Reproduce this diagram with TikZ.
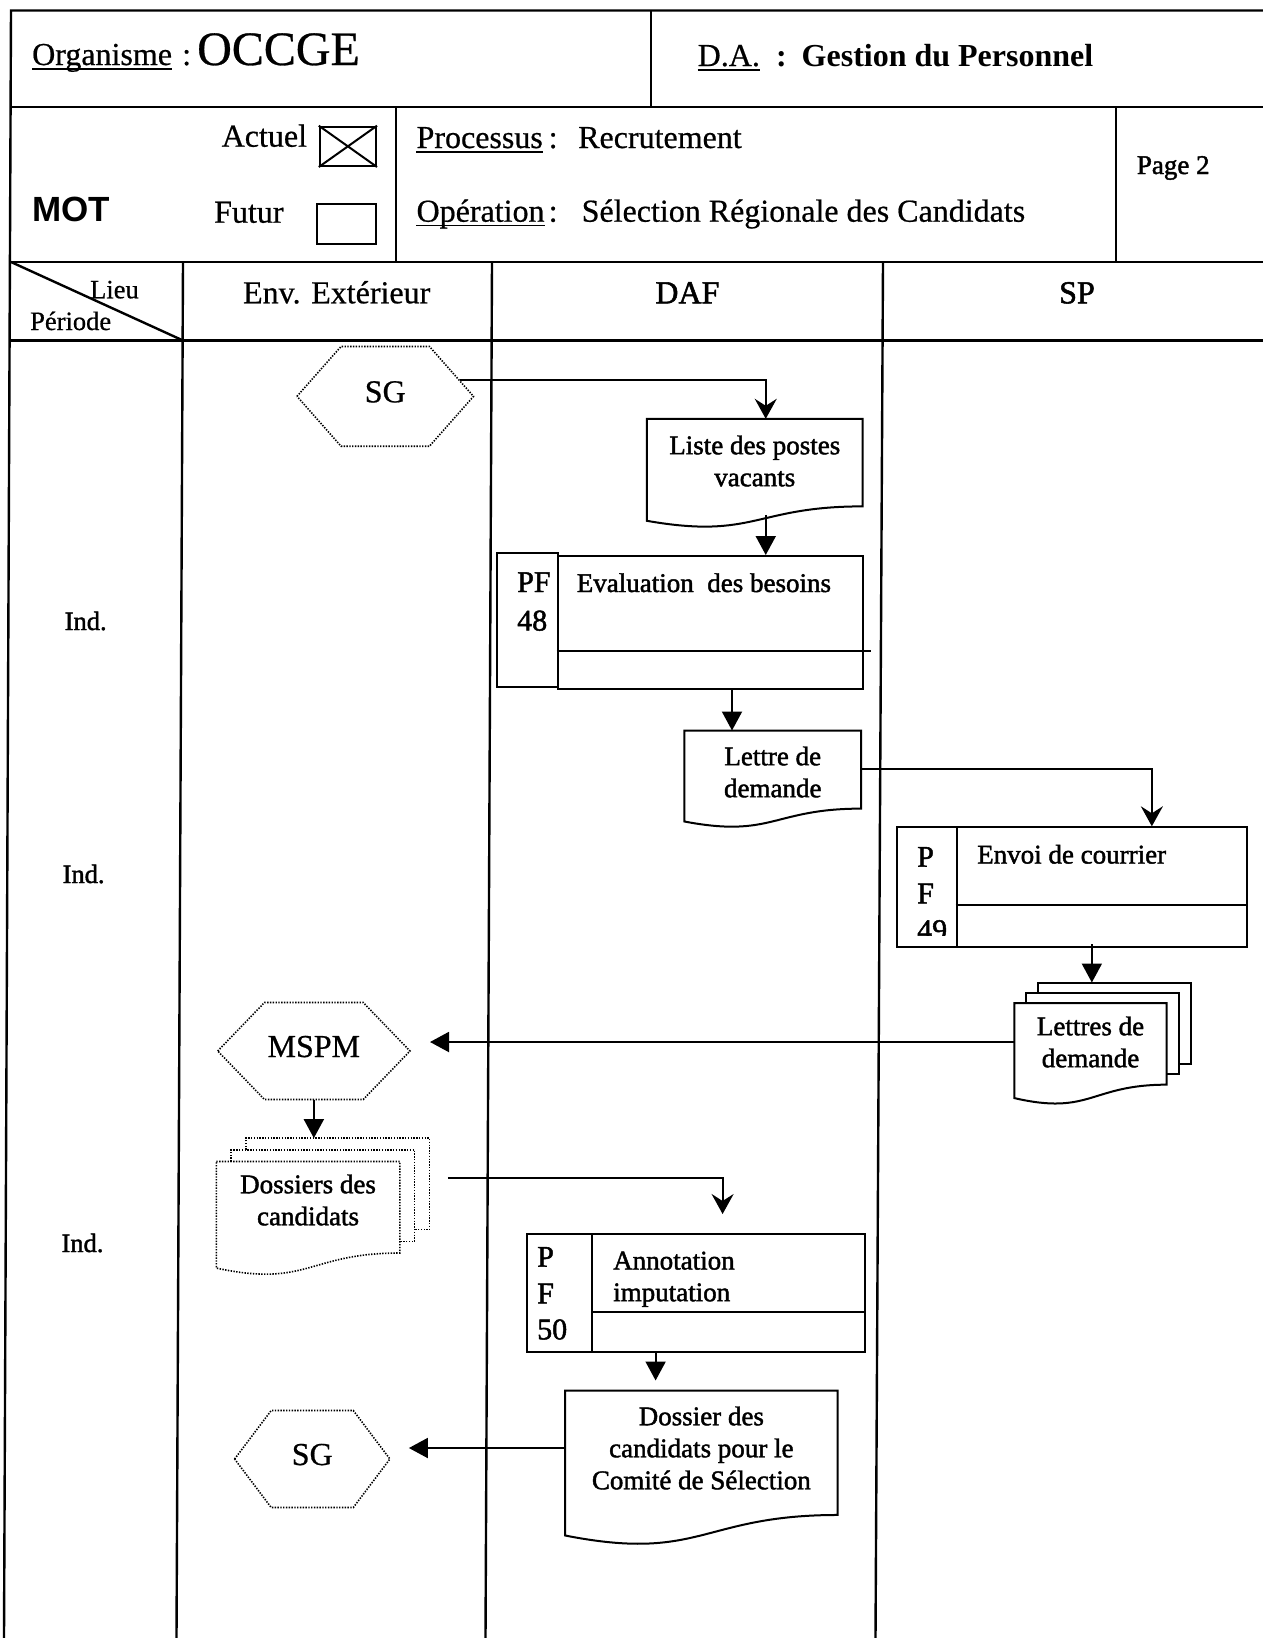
\documentclass[tikz,border=0pt]{standalone}
\usepackage{fontspec}
\setmainfont{Liberation Serif}[UprightFeatures={FakeBold=0.6}]
\newfontfamily\heavyfont{Liberation Serif}[FakeBold=1.6]
\newfontfamily\motfont{Liberation Sans}
\usetikzlibrary{calc,arrows.meta}

\newcommand{\fsBig}{\fontsize{48}{56}\selectfont}
\newcommand{\fsHead}{\fontsize{32}{38}\selectfont}
\newcommand{\fsBox}{\heavyfont\fontsize{27}{32}\selectfont}
\newcommand{\fsPF}{\heavyfont\fontsize{30}{36}\selectfont}
\newcommand{\fsSmall}{\fontsize{26.5}{32}\selectfont}

% document symbol: flat top, wavy bottom (#3 = full height of the sheet)
\newcommand{\docoutline}[3]{%
  \draw[#1] let \p1=(#2.north west), \p2=(#2.north east) in
    (\p1) -- (\p2) -- (\x2,{\y1-0.802*#3})
    .. controls ({0.5*\x1+0.5*\x2},{\y1-0.802*#3}) and ({0.5*\x1+0.5*\x2},{\y1-1.1075*#3}) ..
    (\x1,{\y1-0.934*#3}) -- cycle;}

% pile of documents: two sheets showing behind the front one
\newcommand{\stackoutline}[5]{%
  \draw[#1] let \p1=(#2.north west), \p2=(#2.north east) in
    ({\x1+#4},\y1) -- ({\x1+#4},{\y1+#5}) -- ({\x2+#4},{\y1+#5})
      -- ({\x2+#4},{\y1-0.802*#3+#5}) -- (\x2,{\y1-0.802*#3+#5})
    ({\x1+2*#4},{\y1+#5}) -- ({\x1+2*#4},{\y1+2*#5}) -- ({\x2+2*#4},{\y1+2*#5})
      -- ({\x2+2*#4},{\y1-0.802*#3+2*#5}) -- ({\x2+#4},{\y1-0.802*#3+2*#5});
  \docoutline{#1}{#2}{#3}}

% external actor: elongated hexagon around a node (#3 = depth of the points)
\newcommand{\hexoutline}[3]{%
  \draw[#1] (#2.west) -- ($(#2.north west)+(#3,0)$) -- ($(#2.north east)+(-#3,0)$)
    -- (#2.east) -- ($(#2.south east)+(-#3,0)$) -- ($(#2.south west)+(#3,0)$) -- cycle;}

\begin{document}
\begin{tikzpicture}[x=1pt,y=-1pt,
  tblline/.style={line width=2.4pt},
  shapeline/.style={line width=2pt},
  dotline/.style={line width=1.6pt, dash pattern=on 1.4pt off 1.4pt},
  txt/.style={inner sep=0pt, anchor=base west},
  ctxt/.style={inner sep=0pt, anchor=base},
  pbox/.style={draw, line width=2pt, rectangle, inner sep=0pt},
  hexbox/.style={rectangle, inner sep=0pt, font=\fsHead, text height=22pt, text depth=10pt},
  docbox/.style={rectangle, inner sep=0pt, align=center, font=\fsBox},
  arr/.style={line width=2pt, -{Triangle[length=19pt,width=20pt]}},
  arrs/.style={line width=2pt, -{Stealth[length=20pt,width=22pt,inset=7pt]}},
  uline/.style={line width=1.5pt}
]
\fill[white] (0,0) rectangle (1263,1638);
\useasboundingbox (0,0) rectangle (1263,1638);

% ---------- form frame ----------
\draw[tblline] (1263,10.5) -- (11,10.5) -- (4,1638);
\draw[tblline] (11,107) -- (1263,107);
\draw[tblline] (651,10.5) -- (651,107);
\draw[tblline] (396,107) -- (396,262);
\draw[tblline] (1116,107) -- (1116,262);
\draw[tblline] (10.5,262) -- (1263,262);
\draw[tblline] (10.5,340.5) -- (1263,340.5);
\draw[tblline] (183,262) -- (176.5,1638);
\draw[tblline] (492,262) -- (485.5,1638);
\draw[tblline] (883,262) -- (875.5,1638);
\draw[tblline] (11,262) -- (183,340.5);

% ---------- heading ----------
\node[txt,font=\fsHead] (org) at (32,65) {Organisme};
\draw[uline] ([yshift=-4pt]org.base west) -- ([yshift=-4pt]org.base east);
\node[txt,font=\fsHead] (orgcolon) at (182,65) {:};
\node[txt,font=\fsBig] (orgname) at (197,65) {OCCGE};
\node[txt,font=\fsHead] (da) at (697.5,66) {D.A.};
\draw[uline] ([yshift=-4pt]da.base west) -- ([yshift=-4pt]da.base east);
\node[txt,font=\fsHead\bfseries] (dacolon) at (776,66) {:};
\node[txt,font=\fsHead\bfseries] (daname) at (801.5,66) {Gestion du Personnel};

\node[txt,font=\fsHead] (actuel) at (221.5,146.7) {Actuel};
\node[pbox, minimum width=56.2, minimum height=39.3] (actbox) at (347.9,146.35) {};
\draw[line width=2pt] (actbox.north west) -- (actbox.south east)
                      (actbox.north east) -- (actbox.south west);
\node[txt,font=\fsHead] (futur) at (214,222.7) {Futur};
\node[pbox, minimum width=58.6, minimum height=40.3] (futbox) at (346.7,224.15) {};
\node[txt,font=\motfont\fontsize{35}{40}\selectfont\bfseries] (mot) at (32,221.7) {MOT};

\node[txt,font=\fsHead] (proc) at (416.4,148) {Processus};
\draw[uline] ([yshift=-4pt]proc.base west) -- ([yshift=-4pt]proc.base east);
\node[txt,font=\fsHead] (proccolon) at (548.5,148) {:};
\node[txt,font=\fsHead] (procval) at (578,148) {Recrutement};
\node[txt,font=\fsHead] (oper) at (416.4,221.7) {Opération};
\draw[uline] ([yshift=-4pt]oper.base west) -- ([yshift=-4pt]oper.base east);
\node[txt,font=\fsHead] (opercolon) at (548.5,221.7) {:};
\node[txt,font=\fsHead] (operval) at (581.5,221.7) {Sélection Régionale des Candidats};
\node[txt,font=\heavyfont\fontsize{27}{32}\selectfont] (page) at (1136.7,174) {Page 2};

% ---------- lane headings ----------
\node[txt,font=\fsSmall] (lieu) at (90,298.3) {Lieu};
\node[txt,font=\fsSmall] (periode) at (30,330) {Période};
\node[ctxt,font=\fsHead] (envext) at (336.7,303.3) {Env. Extérieur};
\node[ctxt,font=\heavyfont\fsHead] (daf) at (687.4,303.3) {DAF};
\node[ctxt,font=\heavyfont\fsHead] (sp) at (1077,303.3) {SP};

\node[ctxt,font=\heavyfont\fsSmall] (ind1) at (85.7,630) {Ind.};
\node[ctxt,font=\heavyfont\fsSmall] (ind2) at (83.6,883) {Ind.};
\node[ctxt,font=\heavyfont\fsSmall] (ind3) at (82.5,1252) {Ind.};

% ---------- flow ----------
\node[hexbox, minimum width=176.1, minimum height=99.3] (SG1) at (385.25,396.35) {SG};
\hexoutline{dotline}{SG1}{44}

\node[docbox, minimum width=215.5, minimum height=84] (Liste) at (754.75,461) {Liste des postes\\vacants};
\docoutline{shapeline}{Liste}{109.2pt}

\node[pbox, minimum width=60.5, minimum height=134] (EvalPF) at (527.25,620) {};
\node[pbox, minimum width=305, minimum height=133.3] (Eval) at (710,622.65) {};
\draw[shapeline] ($(Eval.west)+(0,28)$) -- ($(Eval.east)+(7,28)$);
\node[txt,font=\fsBox] (evaltxt) at (576.6,592) {Evaluation\ \ des besoins};
\node[txt,font=\fsPF] (evalpf1) at (517,592) {PF};
\node[txt,font=\fsPF] (evalpf2) at (517,630.5) {48};

\node[docbox, minimum width=176.5, minimum height=82.6] (Lettre) at (772.75,772) {Lettre de\\demande};
\docoutline{shapeline}{Lettre}{97.4pt}

\node[pbox, minimum width=59.7, minimum height=120] (EnvoiPF) at (926.85,887.3) {};
\node[pbox, minimum width=290.3, minimum height=120] (Envoi) at (1101.85,887.3) {};
\draw[shapeline] ($(Envoi.west)+(0,17.7)$) -- ($(Envoi.east)+(0,17.7)$);
\node[txt,font=\fsBox] (envoitxt) at (977,863.5) {Envoi de courrier};
\node[txt,font=\fsPF] (envoipf1) at (917,866.7) {P};
\node[txt,font=\fsPF] (envoipf2) at (917,903.3) {F};
\begin{scope}
  \clip (EnvoiPF.north west) rectangle ($(EnvoiPF.south east)+(0,-13)$);
  \node[txt,font=\fsPF] (envoipf3) at (917,940) {49};
\end{scope}

\node[docbox, minimum width=151.8, minimum height=77.4] (Lettres) at (1090.5,1042) {Lettres de\\demande};
\stackoutline{shapeline}{Lettres}{101.7pt}{12pt}{10.3pt}

\node[hexbox, minimum width=191.9, minimum height=96.6] (MSPM) at (313.85,1051) {MSPM};
\hexoutline{dotline}{MSPM}{46.8}

\node[docbox, minimum width=183.1, minimum height=76.6] (Dossiers) at (308.05,1200) {Dossiers des\\candidats};
\stackoutline{dotline}{Dossiers}{114.1pt}{14.8pt}{11.7pt}

\node[pbox, minimum width=65.2, minimum height=117.7] (AnnotPF) at (559.4,1292.85) {};
\node[pbox, minimum width=273.2, minimum height=117.7] (Annot) at (728.6,1292.85) {};
\draw[shapeline] ($(Annot.west)+(0,18.85)$) -- ($(Annot.east)+(0,18.85)$);
\node[txt,font=\fsBox] (annottxt1) at (613,1269.5) {Annotation};
\node[txt,font=\fsBox] (annottxt2) at (613,1301.2) {imputation};
\node[txt,font=\fsPF] (annotpf1) at (537,1266.7) {P};
\node[txt,font=\fsPF] (annotpf2) at (537,1303.3) {F};
\node[txt,font=\fsPF] (annotpf3) at (537,1339.3) {50};

\node[docbox, minimum width=272.3, minimum height=114.6] (Dossier) at (701.35,1448) {Dossier des\\candidats pour le\\Comité de Sélection};
\docoutline{shapeline}{Dossier}{155.2pt}

\node[hexbox, minimum width=154.9, minimum height=96.6] (SG2) at (312.25,1459) {SG};
\hexoutline{dotline}{SG2}{36.6}

% ---------- connectors ----------
\coordinate (c1) at ($(SG1.east)+(-14,-16)$);
\coordinate (c1e) at ($(Liste.north)+(11,0)$);
\draw[arrs] (c1) -| (c1e);

\coordinate (c2) at ($(Liste.north)+(11,96)$);
\draw[arr] (c2) -- (c2 |- Eval.north);

\coordinate (c3) at ($(Eval.south)+(22,0)$);
\draw[arr] (c3) -- (c3 |- Lettre.north);

\coordinate (c4) at ($(Lettre.east)+(0,-3)$);
\coordinate (c4e) at ($(Envoi.north)+(50,0)$);
\draw[arrs] (c4) -| (c4e);

\coordinate (c5) at ($(Envoi.south)+(-10,-4)$);
\coordinate (c5e) at ($(Lettres.north)+(0,-20.6)$);
\draw[arr] (c5) -- (c5 |- c5e);

\coordinate (c6) at ($(MSPM.east)+(20,0)$);
\draw[arr] (Lettres.west) -- (Lettres.west -| c6);

\coordinate (c7e) at ($(Dossiers.north)+(0,-23.4)$);
\draw[arr] (MSPM.south) -- (MSPM.south |- c7e);

\coordinate (c8) at ($(Dossiers.north east)+(48,16)$);
\coordinate (c8e) at ($(Annot.north)+(-6,-19)$);
\draw[arrs] (c8) -| (c8e);

\coordinate (c9) at ($(Annot.south)+(-73,0)$);
\draw[arr] (c9) -- ($(c9 |- Dossier.north)+(0,-10)$);

\coordinate (c10) at ($(SG2.east)+(19,0)$);
\draw[arr] (Dossier.west) -- (Dossier.west -| c10);

\end{tikzpicture}
\end{document}
